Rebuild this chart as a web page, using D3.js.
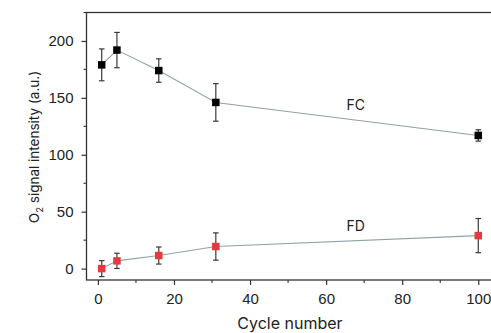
<!DOCTYPE html>
<html>
<head>
<meta charset="utf-8">
<script src="https://cdn.jsdelivr.net/npm/d3@7"></script>
<style>
  html, body { margin: 0; padding: 0; background: #fff; }
  svg { display: block; font-family: Inter, "Noto Sans", sans-serif; }
</style>
</head>
<body>
<div id="chart"></div>
<script>
// cycle numbers and signal values
const cycles = [1, 5, 16, 31, 100];
const fcValues = [179, 192, 174, 146, 117];
const fcErrors = [14, 15.5, 10.3, 16.5, 5];
const fdValues = [0, 6.8, 11.5, 19.4, 29];
const fdErrors = [7, 6.7, 7.5, 12, 15];
const xTicks = [0, 20, 40, 60, 80, 100];
const yTicks = [0, 50, 100, 150, 200];

const width = 491;
const height = 333;
const margin = { top: 12.5, right: -12, bottom: 53, left: 86.5 };

const svg = d3.select('#chart')
  .append('svg')
  .attr('width', width)
  .attr('height', height);

const x = d3.scaleLinear()
  .domain([-3, 106.5])
  .range([margin.left, width - margin.right]);

const y = d3.scaleLinear()
  .domain([-10, 225])
  .range([height - margin.bottom, margin.top]);

const axisColor = '#333';
const textColor = '#222';

// frame (top and bottom run off the right edge)
svg.append('rect')
  .attr('x', margin.left)
  .attr('y', margin.top)
  .attr('width', x.range()[1] - margin.left)
  .attr('height', y.range()[0] - margin.top)
  .attr('fill', 'none')
  .attr('stroke', axisColor)
  .attr('stroke-width', 1.3);

// x axis
const xAxis = svg.append('g')
  .attr('transform', `translate(0,${y.range()[0]})`);
xAxis.call(d3.axisBottom(x).tickValues(xTicks).tickSize(5).tickPadding(8).tickSizeOuter(0))
xAxis.select('.domain').remove();
xAxis.selectAll('.tick line').attr('stroke', axisColor).attr('stroke-width', 1.2);
xAxis.selectAll('.tick text')
  .attr('fill', textColor)
  .style('font-size', '15px');
xAxis.selectAll('.minor')
  .data(d3.range(10, 101, 20))
  .enter()
  .append('line')
  .attr('x1', d => x(d))
  .attr('x2', d => x(d))
  .attr('y1', 0)
  .attr('y2', 3)
  .attr('stroke', axisColor)
  .attr('stroke-width', 1.1);

// y axis
const yAxis = svg.append('g')
  .attr('transform', `translate(${margin.left},0)`);
yAxis.call(d3.axisLeft(y).tickValues(yTicks).tickSize(5).tickPadding(8).tickSizeOuter(0));
yAxis.select('.domain').remove();
yAxis.selectAll('.tick line').attr('stroke', axisColor).attr('stroke-width', 1.2);
yAxis.selectAll('.tick text')
  .attr('fill', textColor)
  .style('font-size', '15px');
yAxis.selectAll('.minor')
  .data(d3.range(25, 226, 50))
  .enter()
  .append('line')
  .attr('x1', -3)
  .attr('x2', 0)
  .attr('y1', d => y(d))
  .attr('y2', d => y(d))
  .attr('stroke', axisColor)
  .attr('stroke-width', 1.1);

// axis titles
svg.append('text')
  .attr('x', 290)
  .attr('y', 329)
  .attr('text-anchor', 'middle')
  .attr('fill', textColor)
  .style('font-size', '16px')
  .text('Cycle number');

const yTitle = svg.append('text')
  .attr('transform', 'translate(39,147) rotate(-90)')
  .attr('text-anchor', 'middle')
  .attr('fill', textColor)
  .style('font-size', '13.5px');
yTitle.append('tspan').text('O');
yTitle.append('tspan').attr('dy', 4).style('font-size', '9.5px').text('2');
yTitle.append('tspan').attr('dy', -4).text(' signal intensity (a.u.)');

// series
const series = [
  { name: 'FC', values: fcValues, errors: fcErrors, color: '#000000', labelValue: 143 },
  { name: 'FD', values: fdValues, errors: fdErrors, color: '#e8383d', labelValue: 36 }
];

const line = d3.line()
  .x(d => x(d.cycle))
  .y(d => y(d.value));

series.forEach(s => {
  const pts = cycles.map((c, i) => ({ cycle: c, value: s.values[i], err: s.errors[i] }));
  const g = svg.append('g');

  g.append('path')
    .datum(pts)
    .attr('d', line)
    .attr('fill', 'none')
    .attr('stroke', '#8fa2ac')
    .attr('stroke-width', 1.1);

  const bars = g.selectAll('.err')
    .data(pts)
    .enter()
    .append('g');
  bars.append('line')
    .attr('x1', d => x(d.cycle))
    .attr('x2', d => x(d.cycle))
    .attr('y1', d => y(d.value + d.err))
    .attr('y2', d => y(d.value - d.err))
    .attr('stroke', '#3a3a3a')
    .attr('stroke-width', 1.2);
  bars.selectAll('.cap')
    .data(d => [d.value + d.err, d.value - d.err].map(v => ({ cycle: d.cycle, v })))
    .enter()
    .append('line')
    .attr('x1', d => x(d.cycle) - 2.8)
    .attr('x2', d => x(d.cycle) + 2.8)
    .attr('y1', d => y(d.v))
    .attr('y2', d => y(d.v))
    .attr('stroke', '#3a3a3a')
    .attr('stroke-width', 1.2);

  g.selectAll('.pt')
    .data(pts)
    .enter()
    .append('rect')
    .attr('x', d => x(d.cycle) - 3.75)
    .attr('y', d => y(d.value) - 3.75)
    .attr('width', 7.5)
    .attr('height', 7.5)
    .attr('fill', s.color);

  g.append('text')
    .attr('x', x(67.8))
    .attr('y', y(s.labelValue))
    .attr('text-anchor', 'middle')
    .attr('dominant-baseline', 'middle')
    .attr('fill', textColor)
    .style('font-size', '14px')
    .text(s.name);
});
</script>
</body>
</html>
